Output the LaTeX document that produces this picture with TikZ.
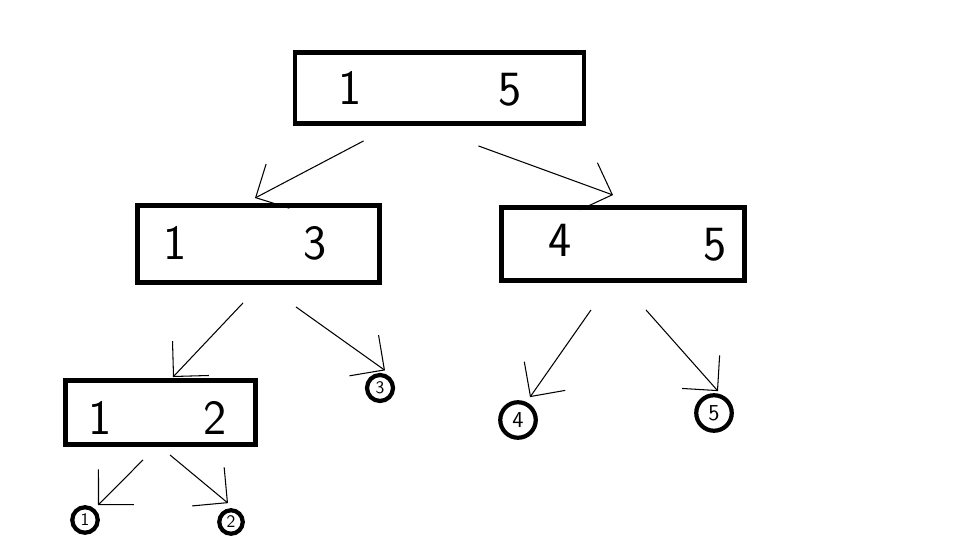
\documentclass[tikz,border=0pt]{standalone}
\usepackage{tikz}
\usetikzlibrary{calc, positioning, arrows.meta}

\begin{document}
\begin{tikzpicture}[>={Straight Barb[length=5mm, width=10mm]}, font=\sffamily]
  \tikzset{
    seg/.style={draw, line width=2.8pt, inner sep=0pt},
    leaf/.style={draw, circle, line width=2.4pt, inner sep=0pt},
    digit/.style={font=\sffamily\fontsize{28}{28}\selectfont},
    link/.style={->, line width=0.6pt},
  }
  \useasboundingbox (0,0) rectangle (19.2,10.8);
  % Segments
  \foreach \nm/\x/\y/\w/\h in {15/8.79/9.04/5.78/1.42, 13/5.17/5.92/4.84/1.54, 45/12.46/5.92/4.86/1.46, 12/3.21/2.55/3.80/1.28}
    \node[seg, minimum width=\w cm, minimum height=\h cm] (n\nm) at (\x, \y) {};
  % Bounds
  \foreach \x/\y/\lbl [count=\i] in {7.0/9.04/1, 10.2/9.0/5, 3.5/5.94/1, 6.3/5.94/3, 11.2/6.0/4, 14.3/5.9/5, 2.0/2.44/1, 4.3/2.44/2}
    \node[digit] (b\i) at (\x, \y) {\lbl};
  % Leaves
  \foreach \lbl/\x/\y/\d/\f in {1/1.7/0.4/0.51/10, 2/4.62/0.36/0.47/10, 3/7.6/3.04/0.52/10, 4/10.36/2.4/0.71/13, 5/14.28/2.54/0.71/13}
    \node[leaf, minimum size=\d cm, font=\sffamily\fontsize{\f}{\f}\selectfont] (l\lbl) at (\x, \y) {\lbl};
  % Links
  \draw[link] ([shift={(-1.52,-0.30)}]n15.south) -- ([shift={(-0.07,0.10)}]n13.north);
  \draw[link] ([shift={(0.78,-0.40)}]n15.south) -- ([shift={(-0.20,0.20)}]n45.north);
  \draw[link] ([shift={(-0.31,-0.36)}]n13.south) -- ([shift={(0.25,0.02)}]n12.north);
  \draw[link] ([shift={(0.75,-0.44)}]n13.south) -- ([shift={(0.10,0.05)}]l3.north);
  \draw[link] ([shift={(-0.64,-0.54)}]n45.south) -- ([shift={(0.24,0.06)}]l4.north);
  \draw[link] ([shift={(0.46,-0.54)}]n45.south) -- ([shift={(0.08,0.04)}]l5.north);
  \draw[link] ([shift={(-0.35,-0.26)}]n12.south) -- ([shift={(0.26,0.00)}]l1.north);
  \draw[link] ([shift={(0.19,-0.16)}]n12.south) -- ([shift={(-0.06,0.10)}]l2.north);
\end{tikzpicture}
\end{document}
